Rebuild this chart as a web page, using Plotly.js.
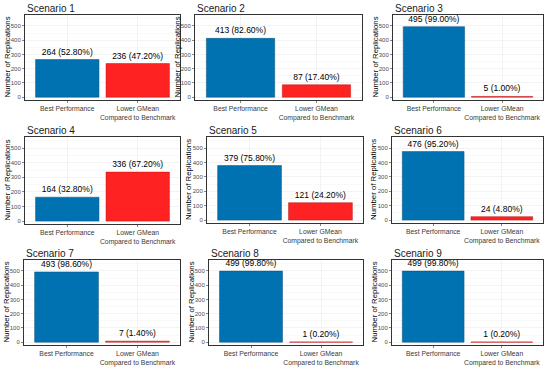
<!DOCTYPE html>
<html>
<head>
<meta charset="utf-8">
<script src="https://cdn.plot.ly/plotly-3.0.1.min.js"></script>
<style>html,body{margin:0;padding:0;background:#fff;}#chart{width:550px;height:368px;}</style>
</head>
<body>
<div id="chart"></div>
<script>
const categories = ["Best Performance", "Lower GMean<br>Compared to Benchmark"];
const scenarios = ["Scenario 1","Scenario 2","Scenario 3","Scenario 4","Scenario 5","Scenario 6","Scenario 7","Scenario 8","Scenario 9"];
const bestCounts  = [264, 413, 495, 164, 379, 476, 493, 499, 499];
const lowerCounts = [236,  87,   5, 336, 121,  24,   7,   1,   1];
const bestPct  = ["52.80%","82.60%","99.00%","32.80%","75.80%","95.20%","98.60%","99.80%","99.80%"];
const lowerPct = ["47.20%","17.40%","1.00%","67.20%","24.20%","4.80%","1.40%","0.20%","0.20%"];
const yTicks = [0, 100, 200, 300, 400, 500];

const W = 550, H = 368;
// panel boxes in pixels [left, right, top, bottom]
const boxes = [
  [25,180,15,100],[195,362,15,100],[393,543,15,100],
  [25,180,137,224],[207,363,137,223],[392,543,137,223],
  [24,180,260,345],[209,363,260,345],[392,543,260,345]
];
const font = "Liberation Sans, Arial, sans-serif";
const data = [];
const layout = {
  width: W, height: H,
  margin: {l:0, r:0, t:0, b:0},
  paper_bgcolor: "#fff", plot_bgcolor: "#fff",
  showlegend: false,
  font: {family: font, color: "#000"},
  annotations: [], bargap: 0.1
};
scenarios.forEach((name, i) => {
  const k = i === 0 ? "" : String(i + 1);
  const b = boxes[i];
  data.push({
    type: "bar",
    x: [0, 1],
    y: [bestCounts[i], lowerCounts[i]],
    text: [bestCounts[i] + " (" + bestPct[i] + ")", lowerCounts[i] + " (" + lowerPct[i] + ")"],
    textposition: "outside",
    constraintext: "none",
    cliponaxis: false,
    textfont: {size: 8.5, color: "#000", family: font},
    width: 0.9,
    marker: {color: ["#0072B2", "#FF2222"], line: {color: ["#0a4f7a", "#b51515"], width: 0.5}},
    xaxis: "x" + k, yaxis: "y" + k,
    hoverinfo: "none"
  });
  layout["xaxis" + k] = {
    domain: [b[0] / W, b[1] / W],
    anchor: "y" + k,
    range: [-0.6, 1.6],
    tickmode: "array", tickvals: [0, 1], ticktext: categories,
    tickfont: {size: 6.8, color: "#3a3a3a", family: font},
    showgrid: true, gridcolor: "#EBEBEB", gridwidth: 0.6,
    showline: true, mirror: true, linecolor: "#333", linewidth: 1,
    ticks: "outside", ticklen: 2, tickcolor: "#333", tickwidth: 0.6,
    zeroline: false, fixedrange: true
  };
  layout["yaxis" + k] = {
    domain: [1 - b[3] / H, 1 - b[2] / H],
    anchor: "x" + k,
    range: [-20, 577],
    tickmode: "array", tickvals: yTicks,
    tickfont: {size: 6, color: "#4D4D4D", family: font},
    showgrid: true, gridcolor: "#EBEBEB", gridwidth: 0.6,
    minor: {tickmode: "array", tickvals: [50,150,250,350,450,550], showgrid: true, gridcolor: "#F4F4F4", gridwidth: 0.5, ticks: ""},
    showline: true, mirror: true, linecolor: "#333", linewidth: 1,
    ticks: "outside", ticklen: 2, tickcolor: "#333", tickwidth: 0.6,
    zeroline: false, fixedrange: true
  };
  layout.annotations.push({
    text: name, xref: "paper", yref: "paper",
    x: b[0] / W, y: 1 - (b[2] + 1) / H, xanchor: "left", yanchor: "bottom",
    showarrow: false, font: {size: 10, color: "#1a1a1a", family: font}
  });
  layout.annotations.push({
    text: "Number of Replications", xref: "paper", yref: "paper",
    x: (b[0] - 18) / W, y: 1 - ((b[2] + b[3]) / 2) / H, xanchor: "center", yanchor: "middle",
    textangle: -90, showarrow: false, font: {size: 7.8, color: "#000", family: font}
  });
});
Plotly.newPlot("chart", data, layout, {staticPlot: true});
</script>
</body>
</html>
